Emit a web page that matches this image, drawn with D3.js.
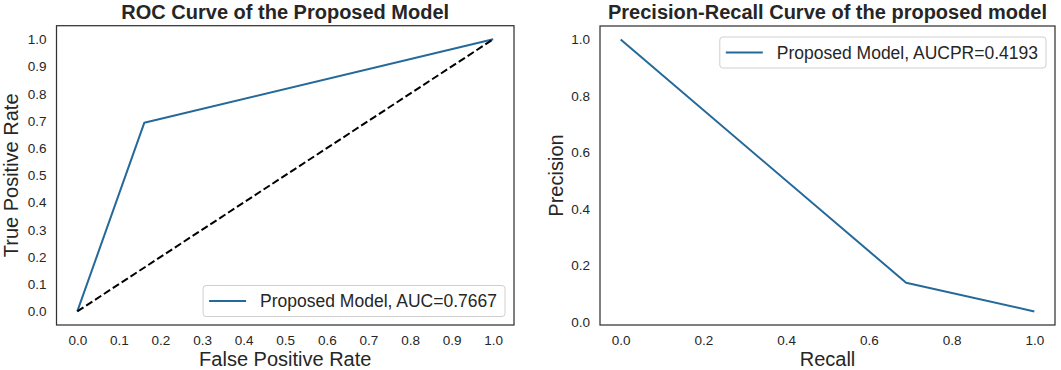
<!DOCTYPE html>
<html>
<head>
<meta charset="utf-8">
<script src="https://cdn.jsdelivr.net/npm/d3@7"></script>
<style>
  body { margin: 0; background: #fff; }
  text { font-family: "Liberation Sans", Arial, sans-serif; fill: #262626; }
</style>
</head>
<body>
<svg id="fig" width="1061" height="370"></svg>
<script>
// ROC curve points
const rocFpr = [0, 0.161, 1];
const rocTpr = [0, 0.693, 1];
const chanceX = [0, 1];
const chanceY = [0, 1];
// precision-recall points
const prRecall = [0, 0.69, 1];
const prPrecision = [1, 0.138, 0.0365];

const rocTicks = [0, 0.1, 0.2, 0.3, 0.4, 0.5, 0.6, 0.7, 0.8, 0.9, 1.0];
const prTicks = [0, 0.2, 0.4, 0.6, 0.8, 1.0];

const blue = '#24699a';
const svg = d3.select('#fig');

// matplotlib-like 5% margins
const pad = ext => {
    const m = (ext[1] - ext[0]) * 0.05;
    return [ext[0] - m, ext[1] + m];
};

const drawPanel = (opt) => {
    const { x0, x1, y0, y1 } = opt.box;
    const g = svg.append('g');
    const xScale = d3.scaleLinear().domain(opt.xDomain).range([x0, x1]);
    const yScale = d3.scaleLinear().domain(opt.yDomain).range([y1, y0]);

    const line = d3.line().x(d => xScale(d[0])).y(d => yScale(d[1]));

    opt.lines.forEach(l => {
        g.append('path')
            .datum(d3.zip(l.x, l.y))
            .attr('d', line)
            .attr('fill', 'none')
            .attr('stroke', l.color)
            .attr('stroke-width', 2)
            .attr('stroke-dasharray', l.dash || null)
            .attr('stroke-linejoin', 'round');
    });

    // frame
    g.append('rect')
        .attr('x', x0).attr('y', y0)
        .attr('width', x1 - x0).attr('height', y1 - y0)
        .attr('fill', 'none').attr('stroke', '#333').attr('stroke-width', 1.25);

    const fmt = d3.format('.1f');
    const xAxis = g.append('g').attr('transform', `translate(0, ${y1})`)
        .call(d3.axisBottom(xScale).tickValues(opt.xTicks).tickFormat(fmt).tickSize(0).tickPadding(10));
    const yAxis = g.append('g').attr('transform', `translate(${x0}, 0)`)
        .call(d3.axisLeft(yScale).tickValues(opt.yTicks).tickFormat(fmt).tickSize(0).tickPadding(10));
    [xAxis, yAxis].forEach(a => {
        a.select('.domain').remove();
        a.selectAll('.tick text').attr('font-size', 13.5).attr('fill', '#262626')
            .attr('font-family', '"Liberation Sans", Arial, sans-serif');
    });

    // title + labels
    g.append('text')
        .attr('x', (x0 + x1) / 2).attr('y', 19)
        .attr('text-anchor', 'middle')
        .attr('font-size', 20).attr('font-weight', 'bold')
        .text(opt.title);
    g.append('text')
        .attr('x', (x0 + x1) / 2).attr('y', 366)
        .attr('text-anchor', 'middle')
        .attr('font-size', 20)
        .text(opt.xLabel);
    g.append('text')
        .attr('transform', `translate(${opt.yLabelX}, ${(y0 + y1) / 2}) rotate(-90)`)
        .attr('text-anchor', 'middle')
        .attr('font-size', 20)
        .text(opt.yLabel);

    // legend
    const lg = g.append('g');
    const txt = lg.append('text')
        .attr('font-size', 17.5)
        .text(opt.legend);
    const tw = txt.node().getComputedTextLength();
    const bw = tw + 65, bh = 31;
    const bx = x1 - 9 - bw;
    const by = opt.legendPos === 'top' ? y0 + 11 : y1 - 8.5 - bh;
    lg.insert('rect', 'text')
        .attr('x', bx).attr('y', by).attr('width', bw).attr('height', bh)
        .attr('rx', 3).attr('fill', 'white').attr('fill-opacity', 0.8)
        .attr('stroke', '#cfcfcf').attr('stroke-width', 1);
    lg.append('line')
        .attr('x1', bx + 6).attr('x2', bx + 43)
        .attr('y1', by + bh / 2).attr('y2', by + bh / 2)
        .attr('stroke', blue).attr('stroke-width', 2);
    txt.attr('x', bx + 57).attr('y', by + bh / 2 + 6.3);
};

drawPanel({
    box: { x0: 56.5, x1: 514, y0: 25.7, y1: 325 },
    xDomain: pad([0, 1]),
    yDomain: pad([0, 1]),
    xTicks: rocTicks, yTicks: rocTicks,
    lines: [
        { x: rocFpr, y: rocTpr, color: blue },
        { x: chanceX, y: chanceY, color: '#000', dash: '7.4,3.2' }
    ],
    title: 'ROC Curve of the Proposed Model',
    xLabel: 'False Positive Rate',
    yLabel: 'True Positive Rate',
    yLabelX: 18,
    legend: 'Proposed Model, AUC=0.7667',
    legendPos: 'bottom'
});

drawPanel({
    box: { x0: 600, x1: 1055, y0: 26, y1: 325 },
    xDomain: pad(d3.extent(prRecall)),
    yDomain: pad(d3.extent(prPrecision)),
    xTicks: prTicks, yTicks: prTicks,
    lines: [
        { x: prRecall, y: prPrecision, color: blue }
    ],
    title: 'Precision-Recall Curve of the proposed model',
    xLabel: 'Recall',
    yLabel: 'Precision',
    yLabelX: 563,
    legend: 'Proposed Model, AUCPR=0.4193',
    legendPos: 'top'
});
</script>
</body>
</html>
